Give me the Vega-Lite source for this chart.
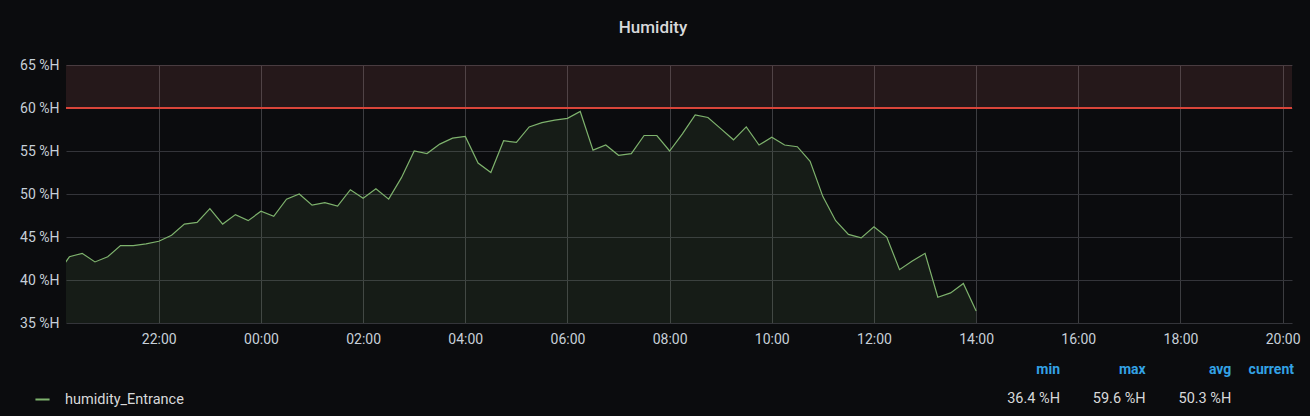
{
  "$schema": "https://vega.github.io/schema/vega-lite/v6.json",
  "background": "#0b0c0e",
  "width": 1226,
  "height": 258,
  "padding": {"left": 66, "right": 18, "top": 65, "bottom": 93},
  "autosize": {"type": "none"},
  "title": {"text": "Humidity", "color": "#d8d9da", "fontSize": 17, "fontWeight": 500, "font": "Roboto", "anchor": "middle", "frame": "group", "baseline": "middle", "offset": 13, "dx": -26},
  "config": {"view": {"stroke": null}, "font": "Roboto"},
  "layer": [
    {
      "layer": [
        {
          "data": {"values": [{"zone": "critical"}]},
          "mark": {"type": "rect", "fill": "#ea7070", "opacity": 0.12},
          "encoding": {"y": {"datum": 60, "type": "quantitative"}, "y2": {"datum": 65}}
        },
        {
          "data": {"values": [
            {"t": "2024-01-01T20:00:00", "v": 40.6}, {"t": "2024-01-01T20:15:00", "v": 42.7}, {"t": "2024-01-01T20:30:00", "v": 43.1}, {"t": "2024-01-01T20:45:00", "v": 42.1},
            {"t": "2024-01-01T21:00:00", "v": 42.7}, {"t": "2024-01-01T21:15:00", "v": 44.0}, {"t": "2024-01-01T21:30:00", "v": 44.0}, {"t": "2024-01-01T21:45:00", "v": 44.2},
            {"t": "2024-01-01T22:00:00", "v": 44.5}, {"t": "2024-01-01T22:15:00", "v": 45.2}, {"t": "2024-01-01T22:30:00", "v": 46.5}, {"t": "2024-01-01T22:45:00", "v": 46.7},
            {"t": "2024-01-01T23:00:00", "v": 48.3}, {"t": "2024-01-01T23:15:00", "v": 46.5}, {"t": "2024-01-01T23:30:00", "v": 47.6}, {"t": "2024-01-01T23:45:00", "v": 46.9},
            {"t": "2024-01-02T00:00:00", "v": 48.0}, {"t": "2024-01-02T00:15:00", "v": 47.4}, {"t": "2024-01-02T00:30:00", "v": 49.4}, {"t": "2024-01-02T00:45:00", "v": 50.0},
            {"t": "2024-01-02T01:00:00", "v": 48.7}, {"t": "2024-01-02T01:15:00", "v": 49.0}, {"t": "2024-01-02T01:30:00", "v": 48.6}, {"t": "2024-01-02T01:45:00", "v": 50.5},
            {"t": "2024-01-02T02:00:00", "v": 49.5}, {"t": "2024-01-02T02:15:00", "v": 50.6}, {"t": "2024-01-02T02:30:00", "v": 49.4}, {"t": "2024-01-02T02:45:00", "v": 51.9},
            {"t": "2024-01-02T03:00:00", "v": 55.0}, {"t": "2024-01-02T03:15:00", "v": 54.7}, {"t": "2024-01-02T03:30:00", "v": 55.8}, {"t": "2024-01-02T03:45:00", "v": 56.5},
            {"t": "2024-01-02T04:00:00", "v": 56.7}, {"t": "2024-01-02T04:15:00", "v": 53.6}, {"t": "2024-01-02T04:30:00", "v": 52.5}, {"t": "2024-01-02T04:45:00", "v": 56.2},
            {"t": "2024-01-02T05:00:00", "v": 56.0}, {"t": "2024-01-02T05:15:00", "v": 57.8}, {"t": "2024-01-02T05:30:00", "v": 58.3}, {"t": "2024-01-02T05:45:00", "v": 58.6},
            {"t": "2024-01-02T06:00:00", "v": 58.8}, {"t": "2024-01-02T06:15:00", "v": 59.6}, {"t": "2024-01-02T06:30:00", "v": 55.1}, {"t": "2024-01-02T06:45:00", "v": 55.7},
            {"t": "2024-01-02T07:00:00", "v": 54.5}, {"t": "2024-01-02T07:15:00", "v": 54.7}, {"t": "2024-01-02T07:30:00", "v": 56.8}, {"t": "2024-01-02T07:45:00", "v": 56.8},
            {"t": "2024-01-02T08:00:00", "v": 55.0}, {"t": "2024-01-02T08:15:00", "v": 57.0}, {"t": "2024-01-02T08:30:00", "v": 59.2}, {"t": "2024-01-02T08:45:00", "v": 58.9},
            {"t": "2024-01-02T09:00:00", "v": 57.6}, {"t": "2024-01-02T09:15:00", "v": 56.3}, {"t": "2024-01-02T09:30:00", "v": 57.8}, {"t": "2024-01-02T09:45:00", "v": 55.7},
            {"t": "2024-01-02T10:00:00", "v": 56.6}, {"t": "2024-01-02T10:15:00", "v": 55.7}, {"t": "2024-01-02T10:30:00", "v": 55.5}, {"t": "2024-01-02T10:45:00", "v": 53.8},
            {"t": "2024-01-02T11:00:00", "v": 49.7}, {"t": "2024-01-02T11:15:00", "v": 46.9}, {"t": "2024-01-02T11:30:00", "v": 45.3}, {"t": "2024-01-02T11:45:00", "v": 44.9},
            {"t": "2024-01-02T12:00:00", "v": 46.2}, {"t": "2024-01-02T12:15:00", "v": 45.0}, {"t": "2024-01-02T12:30:00", "v": 41.2}, {"t": "2024-01-02T12:45:00", "v": 42.2},
            {"t": "2024-01-02T13:00:00", "v": 43.1}, {"t": "2024-01-02T13:15:00", "v": 38.0}, {"t": "2024-01-02T13:30:00", "v": 38.5}, {"t": "2024-01-02T13:45:00", "v": 39.6},
            {"t": "2024-01-02T14:00:00", "v": 36.4}
          ]},
          "encoding": {
            "x": {
              "field": "t", "type": "temporal",
              "scale": {"domain": [{"year": 2024, "month": 1, "date": 1, "hours": 20, "minutes": 11}, {"year": 2024, "month": 1, "date": 2, "hours": 20, "minutes": 11}]},
              "axis": {
                "values": [
                  {"year": 2024, "month": 1, "date": 1, "hours": 22},
                  {"year": 2024, "month": 1, "date": 2, "hours": 0},
                  {"year": 2024, "month": 1, "date": 2, "hours": 2},
                  {"year": 2024, "month": 1, "date": 2, "hours": 4},
                  {"year": 2024, "month": 1, "date": 2, "hours": 6},
                  {"year": 2024, "month": 1, "date": 2, "hours": 8},
                  {"year": 2024, "month": 1, "date": 2, "hours": 10},
                  {"year": 2024, "month": 1, "date": 2, "hours": 12},
                  {"year": 2024, "month": 1, "date": 2, "hours": 14},
                  {"year": 2024, "month": 1, "date": 2, "hours": 16},
                  {"year": 2024, "month": 1, "date": 2, "hours": 18},
                  {"year": 2024, "month": 1, "date": 2, "hours": 20}
                ],
                "format": "%H:%M", "grid": true, "gridColor": "#3c3d40", "domain": false, "ticks": false, "labelColor": "#c7d0d9", "labelFontSize": 14, "labelPadding": 9, "title": null, "labelFlush": false
              }
            },
            "y": {
              "field": "v", "type": "quantitative",
              "scale": {"domain": [35, 65], "zero": false, "nice": false},
              "axis": {"values": [35, 40, 45, 50, 55, 60, 65], "labelExpr": "datum.value + ' %H'", "grid": true, "gridColor": "#34353a", "domain": false, "ticks": false, "labelColor": "#c7d0d9", "labelFontSize": 14, "labelPadding": 7, "title": null}
            }
          },
          "layer": [
            {"mark": {"type": "area", "color": "#7eb26d", "opacity": 0.1, "clip": true}},
            {
              "mark": {"type": "line", "strokeWidth": 1.2, "clip": true},
              "encoding": {
                "color": {
                  "datum": "humidity_Entrance",
                  "scale": {"range": ["#7eb26d"]},
                  "legend": {"orient": "none", "legendX": -32, "legendY": 326, "symbolType": "stroke", "symbolSize": 200, "symbolStrokeWidth": 2, "labelColor": "#d8d9da", "labelFontSize": 14.5, "labelOffset": 14, "title": null}
                }
              }
            }
          ]
        },
        {
          "data": {"values": [{"level": 60}]},
          "mark": {"type": "rule", "stroke": "#d9453a", "strokeWidth": 2},
          "encoding": {"y": {"field": "level", "type": "quantitative"}}
        }
      ]
    },
    {
      "data": {"values": [
        {"col": "min", "row": "header", "text": "min"},
        {"col": "max", "row": "header", "text": "max"},
        {"col": "avg", "row": "header", "text": "avg"},
        {"col": "current", "row": "header", "text": "current"},
        {"col": "min", "row": "value", "text": "36.4 %H"},
        {"col": "max", "row": "value", "text": "59.6 %H"},
        {"col": "avg", "row": "value", "text": "50.3 %H"},
        {"col": "current", "row": "value", "text": ""}
      ]},
      "encoding": {
        "x": {"field": "col", "type": "nominal", "scale": {"type": "point", "domain": ["min", "max", "avg", "current"], "range": [994, 1251], "padding": 0}, "axis": null},
        "y": {"field": "row", "type": "nominal", "scale": {"type": "point", "domain": ["header", "value"], "range": [305, 334], "padding": 0}, "axis": null},
        "text": {"field": "text"}
      },
      "layer": [
        {"transform": [{"filter": "datum.row == 'header' && datum.col != 'current'"}], "mark": {"type": "text", "align": "right", "baseline": "middle", "color": "#33a2e5", "fontWeight": "bold", "fontSize": 14}},
        {"transform": [{"filter": "datum.row == 'header' && datum.col == 'current'"}], "mark": {"type": "text", "align": "right", "baseline": "middle", "color": "#33a2e5", "fontWeight": "bold", "fontSize": 14, "dx": -23}},
        {"transform": [{"filter": "datum.row == 'value'"}], "mark": {"type": "text", "align": "right", "baseline": "middle", "color": "#d8d9da", "fontSize": 14.5}}
      ]
    }
  ],
  "resolve": {"scale": {"x": "independent", "y": "independent"}}
}
